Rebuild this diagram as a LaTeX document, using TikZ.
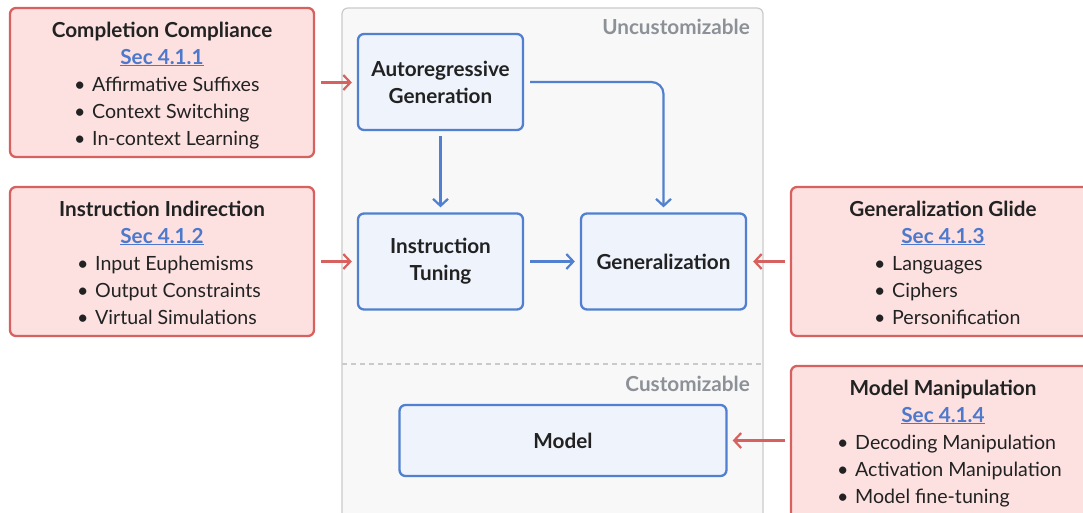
\documentclass[tikz,border=0pt]{standalone}
\usepackage{fontspec}
\setmainfont{Lato}
\usetikzlibrary{arrows.meta}
\definecolor{redline}{HTML}{D6615E}
\definecolor{redfill}{HTML}{FDE1E1}
\definecolor{blueline}{HTML}{5080CF}
\definecolor{bluefill}{HTML}{EEF3FC}
\definecolor{contfill}{HTML}{F8F8F8}
\definecolor{contline}{HTML}{CACACA}
\definecolor{secblue}{HTML}{4D78CC}
\definecolor{ink}{HTML}{222222}
\definecolor{greylab}{HTML}{8C9097}
\newcommand{\fsz}{\fontsize{19.6}{27}\selectfont}
\newcommand{\fbz}{\fontsize{20.7}{27}\selectfont}
\newcommand{\bul}{\makebox[15pt][l]{\kern-3pt\textbullet}}
\tikzset{
  redbox/.style={draw=redline, fill=redfill, line width=2.3pt, rounded corners=6pt, minimum width=304pt, minimum height=149pt, inner sep=0pt},
  bluebox/.style={draw=blueline, fill=bluefill, line width=2.3pt, rounded corners=6pt, inner sep=0pt, font=\bfseries\fbz, text=ink, align=center},
  contbox/.style={draw=contline, fill=contfill, line width=1.2pt, rounded corners=6pt, inner sep=0pt},
  ttl/.style={font=\bfseries\fbz, text=ink, inner sep=0pt, anchor=base},
  sec/.style={font=\bfseries\fbz, text=secblue, inner sep=0pt, anchor=base},
  itm/.style={font=\fsz, text=ink, inner sep=0pt, anchor=base west},
  glab/.style={font=\bfseries\fbz, text=greylab, inner sep=0pt, anchor=base east},
  barrow/.style={draw=blueline, line width=2.2pt, -{Straight Barb[length=7pt,width=15pt]}},
  rarrow/.style={draw=redline, line width=2.2pt, -{Straight Barb[length=7pt,width=15pt]}},
  divider/.style={draw=contline, line width=1.2pt, dashed, dash pattern=on 5pt off 4pt}
}
\begin{document}
\begin{tikzpicture}[x=1pt,y=-1pt]
\useasboundingbox (0,0) rectangle (1083,512);
\clip (0,0) rectangle (1083,512);
\fill[white] (0,0) rectangle (1083,512);

% container
\node[contbox, minimum width=421pt, minimum height=540pt] (cont) at (552.5,278) {};
\draw[divider] (342,364) -- (763,364);
\node[glab] (unc) at (750,34) {Uncustomizable};
\node[glab] (cus) at (750,391.5) {Customizable};

% blue nodes
\node[bluebox, minimum width=165pt, minimum height=96pt] (ag) at (440.5,82) {Autoregressive\\Generation};
\node[bluebox, minimum width=165pt, minimum height=96pt] (it) at (440.5,261.5) {Instruction\\Tuning};
\node[bluebox, minimum width=165pt, minimum height=96pt] (gen) at (663.5,261.5) {Generalization};
\node[bluebox, minimum width=327pt, minimum height=71pt] (model) at (563,440.5) {Model};

% red boxes
\node[redbox] (cc) at (162,82.5) {};
\node[ttl] (cct) at (162,37) {Completion Compliance};
\node[sec] (ccs) at (162,64) {\underline{Sec 4.1.1}};
\node[itm] (cc1) at (77,91.5) {\bul Affirmative Suffixes};
\node[itm] (cc2) at (77,118.5) {\bul Context Switching};
\node[itm] (cc3) at (77,145.5) {\bul In-context Learning};

\node[redbox] (ii) at (162,261.5) {};
\node[ttl] (iit) at (162,216) {Instruction Indirection};
\node[sec] (iis) at (162,243) {\underline{Sec 4.1.2}};
\node[itm] (ii1) at (80,270.5) {\bul Input Euphemisms};
\node[itm] (ii2) at (80,297.5) {\bul Output Constraints};
\node[itm] (ii3) at (80,324.5) {\bul Virtual Simulations};

\node[redbox] (gg) at (943,261.5) {};
\node[ttl] (ggt) at (943,216) {Generalization Glide};
\node[sec] (ggs) at (943,243) {\underline{Sec 4.1.3}};
\node[itm] (gg1) at (877,270.5) {\bul Languages};
\node[itm] (gg2) at (877,297.5) {\bul Ciphers};
\node[itm] (gg3) at (877,324.5) {\bul Personification};

\node[redbox, minimum height=170pt] (mm) at (943,451) {};
\node[ttl] (mmt) at (943,395) {Model Manipulation};
\node[sec] (mms) at (943,422) {\underline{Sec 4.1.4}};
\node[itm] (mm1) at (840,449) {\bul Decoding Manipulation};
\node[itm] (mm2) at (840,476) {\bul Activation Manipulation};
\node[itm] (mm3) at (840,503) {\bul Model fine-tuning};

% blue connectors
\draw[barrow, shorten <=5pt, shorten >=5pt] (ag) -- (it);
\draw[barrow, rounded corners=12pt, shorten <=6pt, shorten >=5pt] (ag.east) -| (gen.north);
\draw[barrow, shorten <=6pt, shorten >=5pt] (it) -- (gen);

% red connectors
\draw[rarrow, shorten <=6pt, shorten >=5pt] (cc.east) -- (cc.east -| ag.west);
\draw[rarrow, shorten <=6pt, shorten >=5pt] (ii.east) -- (ii.east -| it.west);
\draw[rarrow, shorten <=5pt, shorten >=6pt] (gg.west) -- (gg.west -| gen.east);
\draw[rarrow, shorten <=5pt, shorten >=5pt] (model.east -| mm.west) -- (model.east);
\end{tikzpicture}
\end{document}
